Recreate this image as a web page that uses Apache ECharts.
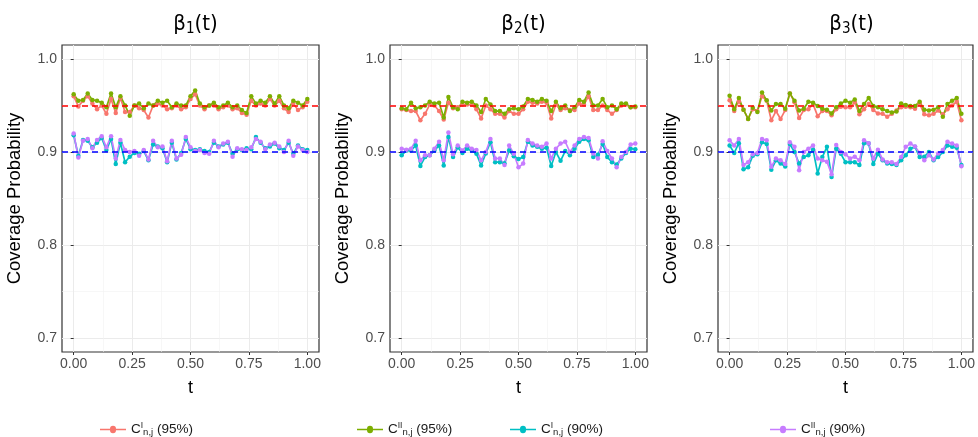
<!DOCTYPE html>
<html><head><meta charset="utf-8">
<script src="https://cdn.jsdelivr.net/npm/echarts@6/dist/echarts.min.js"></script>
<style>html,body{margin:0;padding:0;background:#fff}#c{width:978px;height:437px}</style>
</head><body><div id="c"></div>
<script>
const tValues = [0,0.02,0.04,0.06,0.08,0.1,0.12,0.14,0.16,0.18,0.2,0.22,0.24,0.26,0.28,0.3,0.32,0.34,0.36,0.38,0.4,0.42,0.44,0.46,0.48,0.5,0.52,0.54,0.56,0.58,0.6,0.62,0.64,0.66,0.68,0.7,0.72,0.74,0.76,0.78,0.8,0.82,0.84,0.86,0.88,0.9,0.92,0.94,0.96,0.98,1];
const panelTitles = ['1','2','3'];
const seriesNames = ['I95','II95','I90','II90'];
const xTicks = [0,0.25,0.5,0.75,1];
const xMinor = [0.125,0.375,0.625,0.875];
const yTicks = [0.7,0.8,0.9,1.0];
const yMinor = [0.75,0.85,0.95];
const refLines = [0.95,0.9];

const b1_I95 = [.960,.949,.955,.960,.952,.946,.950,.941,.957,.942,.958,.943,.943,.950,.947,.945,.937,.950,.952,.950,.946,.947,.950,.946,.948,.957,.962,.950,.946,.950,.950,.946,.948,.950,.946,.947,.942,.940,.955,.950,.952,.950,.957,.950,.955,.947,.943,.952,.945,.948,.954];
const b1_II95 = [.962,.955,.956,.963,.956,.955,.953,.948,.963,.948,.960,.950,.939,.950,.952,.947,.952,.950,.955,.953,.955,.948,.952,.950,.950,.960,.966,.952,.948,.950,.953,.948,.950,.953,.948,.950,.945,.942,.960,.952,.955,.953,.960,.952,.960,.950,.947,.955,.953,.950,.957];
const b1_I90 = [.918,.896,.913,.912,.905,.910,.915,.902,.914,.887,.910,.889,.895,.899,.898,.901,.891,.908,.906,.904,.889,.910,.892,.899,.914,.903,.902,.903,.901,.900,.910,.906,.908,.910,.898,.903,.902,.904,.903,.916,.910,.904,.906,.909,.904,.902,.910,.898,.907,.903,.902];
const b1_II90 = [.920,.894,.912,.914,.904,.913,.917,.905,.917,.893,.913,.902,.900,.901,.896,.902,.892,.912,.905,.906,.890,.912,.893,.897,.916,.905,.901,.902,.899,.898,.912,.905,.909,.911,.895,.904,.903,.902,.905,.914,.911,.903,.908,.910,.906,.900,.912,.896,.906,.902,.900];

const b2_I95 = [.946,.945,.944,.944,.934,.941,.951,.950,.944,.935,.953,.947,.948,.951,.951,.951,.946,.936,.950,.946,.941,.941,.937,.944,.941,.941,.946,.954,.953,.952,.954,.953,.936,.951,.945,.947,.945,.945,.952,.951,.960,.945,.945,.950,.945,.941,.945,.950,.951,.948,.948];
const b2_II95 = [.947,.946,.953,.947,.948,.950,.954,.952,.953,.937,.959,.948,.946,.954,.953,.954,.950,.943,.957,.951,.944,.944,.941,.946,.947,.946,.949,.957,.956,.954,.957,.955,.944,.954,.947,.950,.944,.948,.956,.954,.964,.950,.950,.957,.948,.950,.946,.952,.952,.948,.949];
const b2_I90 = [.8965,.9015,.9015,.907,.885,.8945,.8965,.9015,.907,.8855,.916,.8945,.905,.899,.9035,.9015,.898,.8855,.8985,.9105,.889,.889,.888,.9015,.8955,.8925,.8945,.911,.907,.9055,.9035,.9045,.885,.900,.8905,.901,.8965,.9035,.911,.914,.9125,.8945,.897,.9085,.8945,.889,.8865,.893,.899,.9035,.903];
const b2_II90 = [.9035,.9025,.9035,.912,.891,.8965,.8965,.9035,.911,.891,.921,.8975,.907,.9015,.907,.9035,.902,.891,.900,.914,.893,.893,.886,.907,.898,.8835,.8875,.913,.909,.907,.9055,.909,.893,.9035,.909,.911,.900,.907,.914,.916,.915,.8985,.893,.9115,.901,.893,.8835,.8945,.900,.908,.909];

const b3_I95 = [.9557,.944,.9545,.9455,.9355,.946,.944,.960,.955,.934,.944,.9355,.945,.963,.9535,.9365,.945,.946,.9515,.9385,.944,.944,.9395,.946,.9485,.948,.948,.9535,.9405,.946,.9515,.945,.9415,.941,.938,.941,.9445,.948,.9485,.948,.9465,.952,.9405,.9395,.941,.9445,.9405,.946,.950,.954,.934];
const b3_II95 = [.9605,.946,.958,.9455,.9355,.9475,.943,.964,.9555,.9445,.9515,.9515,.9465,.963,.955,.9445,.9465,.954,.953,.9495,.9465,.9455,.9415,.948,.952,.955,.953,.9565,.944,.9515,.958,.9495,.948,.946,.944,.9425,.9435,.952,.9505,.9495,.9495,.954,.9455,.9445,.9455,.948,.938,.9515,.955,.958,.941];
const b3_I90 = [.907,.899,.9095,.8815,.8835,.896,.8975,.9105,.9085,.881,.891,.8875,.8845,.9085,.900,.8875,.8945,.8965,.9025,.877,.8945,.9055,.873,.9035,.898,.889,.889,.889,.886,.9095,.909,.887,.898,.891,.8875,.887,.886,.891,.8965,.9035,.9055,.8945,.895,.900,.891,.8945,.900,.907,.9055,.9045,.886];
const b3_II90 = [.9125,.907,.914,.886,.889,.8975,.899,.914,.9125,.884,.893,.891,.887,.9105,.9055,.8805,.900,.9035,.907,.893,.891,.8895,.876,.9075,.900,.8975,.893,.895,.891,.9125,.9095,.893,.9025,.892,.889,.889,.887,.8945,.9055,.909,.906,.899,.891,.8965,.892,.8985,.902,.911,.909,.907,.8847];

const panels = [[b1_I95,b1_II95,b1_I90,b1_II90],[b2_I95,b2_II95,b2_I90,b2_II90],[b3_I95,b3_II95,b3_I90,b3_II90]];
const colors = ['#F8766D','#7CAE00','#00BFC4','#C77CFF'];
const refColors = ['#FF0000','#0000FF'];
const labelSuffix = {I95:['I','(95%)'],II95:['II','(95%)'],I90:['I','(90%)'],II90:['II','(90%)']};

const gridLeft = [62,390,718];
const gridW = 257, gridTop = 45, gridH = 307;
const FONT = 'Liberation Sans, Arial, sans-serif';
const NARROW = 'Liberation Sans Narrow, DejaVu Sans Condensed, Liberation Sans, sans-serif';

const option = {
  animation:false,
  backgroundColor:'#fff',
  title: panelTitles.map((s,p)=>({
    text:'{a|β}{s|'+s+'}{a|(t)}',
    left: gridLeft[p]+gridW/2, top: 4, textAlign:'center',
    textStyle:{rich:{
      a:{fontSize:22,fontFamily:NARROW,fontWeight:'normal',color:'#000',lineHeight:30},
      s:{fontSize:15,fontFamily:NARROW,fontWeight:'normal',color:'#000',padding:[10,0,0,0],lineHeight:30}
    }}
  })),
  grid: gridLeft.map(l=>({left:l,top:gridTop,width:gridW,height:gridH,show:true,borderColor:'#333',borderWidth:1.2,backgroundColor:'#fff',containLabel:false})),
  xAxis: [],
  yAxis: [],
  legend: seriesNames.map((n,k)=>({
    data:[n], left:[95,352,505,765][k], top:416,
    itemWidth:26,itemHeight:9,
    icon:'path://M0,4.2 L10,4.2 A3,3 0 1 1 16,4.2 L26,4.2 L26,5.8 L16,5.8 A3,3 0 1 1 10,5.8 L0,5.8 Z',
    formatter:(name)=>'{c|C}{sup|'+labelSuffix[name][0]+'}{sub|n,j}{c| '+labelSuffix[name][1]+'}',
    textStyle:{rich:{
      c:{fontSize:13.5,fontFamily:FONT,color:'#1a1a1a',lineHeight:22},
      sup:{fontSize:8.5,fontFamily:FONT,color:'#1a1a1a',padding:[0,0,8,0],lineHeight:22},
      sub:{fontSize:9.5,fontFamily:FONT,color:'#1a1a1a',padding:[5,0,0,0],lineHeight:22}
    }}
  })),
  series: []
};

for (let p=0;p<3;p++){
  option.xAxis.push({
    type:'value', gridIndex:p, min:-0.05, max:1.05,
    name:'t', nameLocation:'middle', nameGap:27,
    nameTextStyle:{fontSize:18,fontFamily:FONT,color:'#000'},
    axisLine:{show:false},
    axisTick:{show:true,length:3,lineStyle:{color:'#333',width:1},customValues:xTicks},
    axisLabel:{customValues:xTicks,formatter:v=>v.toFixed(2),fontSize:14,fontFamily:FONT,color:'#4D4D4D',margin:5},
    splitLine:{show:true,lineStyle:{color:'#EBEBEB',width:1}}
  });
  option.xAxis.push({
    type:'value', gridIndex:p, min:-0.05, max:1.05,
    axisLine:{show:false}, axisLabel:{show:false,customValues:xMinor},
    axisTick:{show:false,customValues:xMinor},
    splitLine:{show:true,lineStyle:{color:'#F2F2F2',width:0.6}}
  });
  option.yAxis.push({
    type:'value', gridIndex:p, min:0.685, max:1.015,
    name:'Coverage Probability', nameLocation:'middle', nameGap:38,
    nameTextStyle:{fontSize:18.5,fontFamily:FONT,color:'#000'},
    axisLine:{show:false},
    axisTick:{show:true,length:3,lineStyle:{color:'#333',width:1},customValues:yTicks},
    axisLabel:{customValues:yTicks,formatter:v=>v.toFixed(1),fontSize:14,fontFamily:FONT,color:'#4D4D4D',margin:5},
    splitLine:{show:true,lineStyle:{color:'#EBEBEB',width:1}}
  });
  option.yAxis.push({
    type:'value', gridIndex:p, min:0.685, max:1.015,
    axisLine:{show:false}, axisLabel:{show:false,customValues:yMinor},
    axisTick:{show:false,customValues:yMinor},
    splitLine:{show:true,lineStyle:{color:'#F2F2F2',width:0.6}}
  });
  panels[p].forEach((vals,k)=>{
    option.series.push({
      name:seriesNames[k], type:'line', xAxisIndex:2*p, yAxisIndex:2*p,
      data: tValues.map((t,i)=>[t,vals[i]]),
      symbol:'circle', symbolSize:4.5, showSymbol:true,
      lineStyle:{width:1.7,color:colors[k]}, itemStyle:{color:colors[k]},
      z:3
    });
  });
  option.series.push({
    type:'line', xAxisIndex:2*p, yAxisIndex:2*p, data:[], z:5, silent:true,
    markLine:{silent:true,symbol:'none',label:{show:false},animation:false,
      data: refLines.map((v,j)=>({yAxis:v,lineStyle:{color:refColors[j],type:[6,4],width:1.6}}))}
  });
}

const chart = echarts.init(document.getElementById('c'),null,{renderer:'canvas'});
chart.setOption(option);
</script></body></html>
